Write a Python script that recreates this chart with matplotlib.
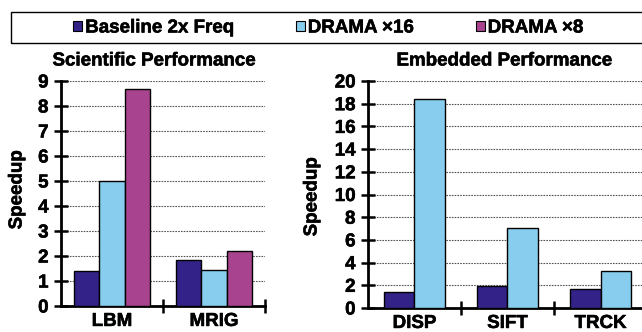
import matplotlib
matplotlib.use("Agg")
import matplotlib.pyplot as plt
import matplotlib.patches as mpatches
import matplotlib.patheffects as pe
import numpy as np

plt.rcParams['font.family'] = ['Liberation Sans', 'DejaVu Sans']
plt.rcParams['font.weight'] = 'bold'

series = ["Baseline 2x Freq", "DRAMA \u00d716", "DRAMA \u00d78"]
colors = ["#332288", "#88CCEE", "#A8448F"]

sci_labels = ["LBM", "MRIG"]
sci_base = [1.4, 1.85]
sci_x16 = [5.0, 1.45]
sci_x8 = [8.7, 2.2]

emb_labels = ["DISP", "SIFT", "TRCK"]
emb_base = [1.4, 1.9, 1.7]
emb_x16 = [18.45, 7.05, 3.25]

W, H = 642, 332
fig = plt.figure(figsize=(W / 100, H / 100), dpi=100)

# slightly heavier text strokes
heavy = [pe.withStroke(linewidth=0.4, foreground='black')]


def px_axes(x0, x1, y_top, y_bot):
    return fig.add_axes([x0 / W, 1 - y_bot / H, (x1 - x0) / W, (y_bot - y_top) / H])


def style(ax, labels, ymax, ystep):
    n = len(labels)
    ax.set_xlim(-0.5, n - 0.5)
    ax.set_ylim(0, ymax)
    ax.set_yticks(np.arange(0, ymax + 0.1, ystep))
    ax.set_xticks(range(n))
    ax.set_xticklabels(labels, fontsize=13.5, fontweight='bold')
    ax.set_xticks(np.arange(0.5, n, 1.0), minor=True)
    ax.tick_params(axis='x', which='major', length=0, pad=5)
    ax.tick_params(axis='x', which='minor', direction='inout', length=10, width=1.8)
    ax.tick_params(axis='y', direction='inout', length=10, width=1.8, labelsize=13.5, pad=4)
    for t in ax.get_yticklabels() + ax.get_xticklabels():
        t.set_fontweight('bold')
        t.set_path_effects(heavy)
    ax.yaxis.grid(True, linestyle=(0, (1.5, 1)), color='#555555', linewidth=0.8)
    ax.set_axisbelow(True)
    for s in ('top', 'right'):
        ax.spines[s].set_visible(False)
    for s in ('left', 'bottom'):
        ax.spines[s].set_linewidth(2)


# scientific workloads, three bars per group
ax1 = px_axes(61, 265, 81, 306)
x = np.arange(len(sci_labels))
w = 0.25
for i, vals in enumerate([sci_base, sci_x16, sci_x8]):
    ax1.bar(x + (i - 1) * w, vals, w, color=colors[i], edgecolor='black', linewidth=1, zorder=3)
style(ax1, sci_labels, 9, 1)

# embedded workloads, two bars per group
ax2 = px_axes(368, 647, 81, 308)
x = np.arange(len(emb_labels))
w = 0.328
for i, vals in enumerate([emb_base, emb_x16]):
    ax2.bar(x + (i - 0.5) * w, vals, w, color=colors[i], edgecolor='black', linewidth=1, zorder=3)
style(ax2, emb_labels, 20, 2)

for xp, yp in [(17, 190), (312, 197)]:
    fig.text(xp / W, 1 - yp / H, "Speedup", rotation=90, ha='center', va='center',
             fontsize=13.5, fontweight='bold', path_effects=heavy)

fig.text(154 / W, 1 - 61 / H, "Scientific Performance", ha='center', va='center',
         fontsize=13.5, fontweight='bold', path_effects=heavy)
fig.text(504 / W, 1 - 61 / H, "Embedded Performance", ha='center', va='center',
         fontsize=13.5, fontweight='bold', path_effects=heavy)

# legend strip across the top
fig.patches.append(mpatches.Rectangle((11 / W, 1 - 43 / H), 1.05, 31 / H, transform=fig.transFigure,
                                      fill=False, edgecolor='black', linewidth=1))
handles = [mpatches.Patch(facecolor=c, edgecolor='black', linewidth=0.8) for c in colors]
leg = fig.legend(handles, series, loc='center left', bbox_to_anchor=(73 / W, 1 - 28 / H), ncol=3,
                 frameon=False, handlelength=0.5, handleheight=0.5,
                 handletextpad=0.15, columnspacing=3.3, borderpad=0, borderaxespad=0,
                 prop={'weight': 'bold', 'size': 13.5})
for t in leg.get_texts():
    t.set_path_effects(heavy)

fig.savefig("out.png", dpi=100)
